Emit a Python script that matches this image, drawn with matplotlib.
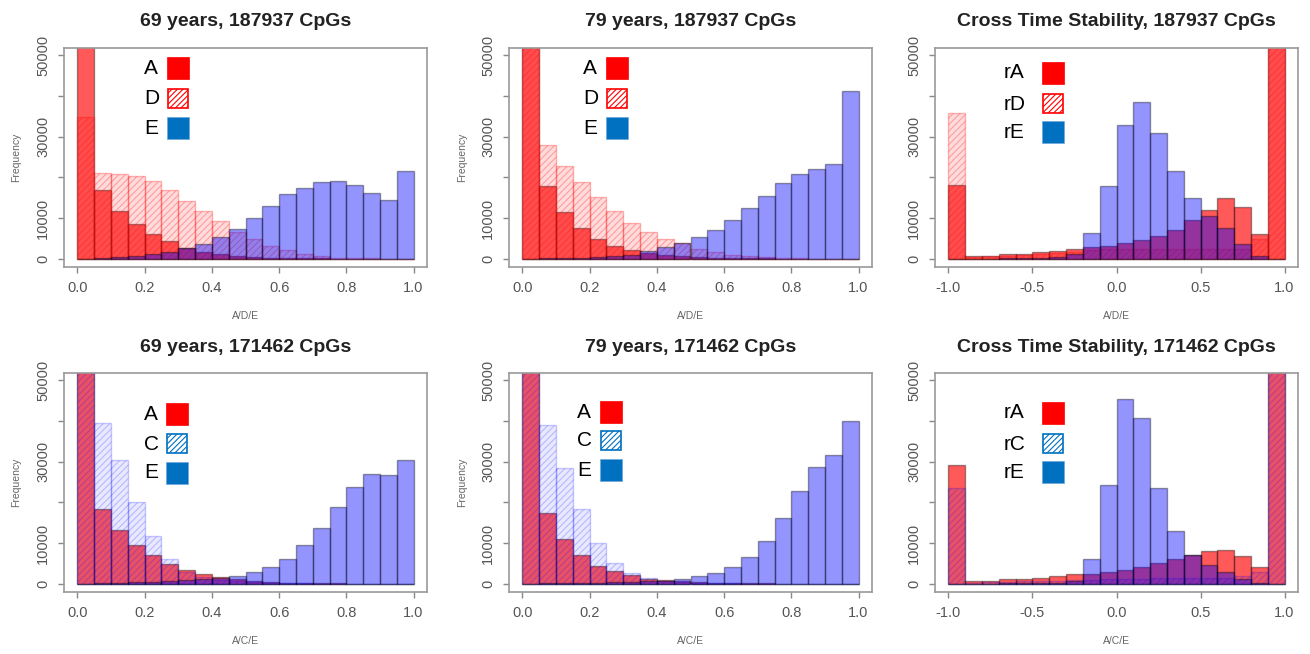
import numpy as np
import matplotlib
matplotlib.use("Agg")
import matplotlib.pyplot as plt
from matplotlib.patches import Rectangle

plt.rcParams['font.family'] = ['Liberation Sans', 'DejaVu Sans']
plt.rcParams['hatch.linewidth'] = 0.8

W, H = 1310, 654

# ---- data (bin counts) ----
age_edges = np.round(np.arange(0, 1.0001, 0.05), 2)
cross_edges = np.round(np.arange(-1, 1.0001, 0.1), 2)

# 187937 CpGs, 69 years
a69_d = [75000, 16900, 11800, 8500, 6100, 4300, 2600, 1800, 1100, 700,
         400, 300, 200, 150, 100, 80, 60, 40, 30, 20]
d69 = [34800, 21000, 20900, 20300, 19100, 16900, 14300, 11800, 9200, 6500,
       4800, 3200, 2100, 1300, 700, 300, 150, 100, 50, 20]
e69_d = [0, 200, 500, 700, 1100, 1600, 2600, 3600, 5300, 7300,
         10000, 12900, 15900, 17400, 19000, 19100, 18200, 16300, 14500, 21700]

# 187937 CpGs, 79 years
a79_d = [75000, 17900, 11600, 7500, 4800, 3200, 2100, 1500, 1000, 700,
         500, 300, 200, 150, 100, 80, 60, 40, 30, 20]
d79 = [60000, 28000, 22700, 18800, 15300, 11700, 8900, 6700, 4900, 3800,
       2400, 1600, 1000, 600, 400, 200, 100, 50, 30, 10]
e79_d = [0, 100, 200, 300, 500, 700, 1000, 2000, 2800, 3900,
         5400, 7100, 9600, 12600, 15400, 18600, 20900, 22000, 23200, 41200]

# 187937 CpGs, cross time stability
ra_d = [18100, 700, 800, 1100, 1300, 1600, 2000, 2400, 2800, 3200,
        3900, 4700, 5700, 7100, 9500, 12100, 14900, 12800, 6100, 70000]
rd = [35800, 400, 600, 800, 1000, 1200, 1500, 1800, 2100, 2300,
      2400, 2500, 2500, 2500, 2500, 2500, 2500, 2400, 4800, 70000]
re_d = [0, 50, 80, 100, 150, 200, 400, 1300, 6300, 18000,
        32900, 38500, 30900, 21500, 14900, 10600, 7700, 3600, 700, 0]

# 171462 CpGs, 69 years
a69_c = [75000, 18300, 13200, 9500, 7100, 4900, 3300, 2300, 1600, 1200,
         800, 500, 300, 200, 150, 100, 80, 50, 30, 20]
c69 = [70000, 39500, 30400, 20100, 11800, 6200, 3000, 1800, 1000, 600,
       400, 300, 200, 100, 80, 50, 30, 20, 10, 10]
e69_c = [0, 200, 300, 400, 500, 700, 900, 1200, 1500, 1900,
         2900, 4100, 6200, 9600, 13700, 18900, 23700, 27000, 26800, 30500]

# 171462 CpGs, 79 years
a79_c = [75000, 17500, 10900, 7000, 4500, 3100, 2100, 1300, 900, 600,
         400, 300, 200, 150, 100, 80, 50, 30, 20, 10]
c79 = [70000, 39100, 28500, 18300, 10100, 5200, 2700, 1500, 800, 500,
       300, 200, 100, 80, 50, 30, 20, 10, 10, 10]
e79_c = [0, 100, 150, 200, 300, 400, 500, 600, 800, 1200,
         1900, 2700, 4100, 6700, 10500, 16100, 22900, 28600, 31700, 39900]

# 171462 CpGs, cross time stability
ra_c = [29300, 650, 800, 1100, 1200, 1500, 1900, 2300, 2500, 3000,
        3500, 4200, 5200, 6000, 7200, 8100, 8300, 6800, 4100, 70000]
rc = [23500, 300, 400, 500, 600, 700, 800, 900, 1000, 1100,
      1200, 1300, 1400, 1500, 1500, 1500, 1500, 2000, 2900, 70000]
re_c = [0, 50, 80, 100, 150, 200, 300, 600, 6000, 24300,
        45500, 40800, 23500, 13000, 7200, 4600, 3000, 1300, 200, 0]

titles = ["69 years, 187937 CpGs", "79 years, 187937 CpGs",
          "Cross Time Stability, 187937 CpGs",
          "69 years, 171462 CpGs", "79 years, 171462 CpGs",
          "Cross Time Stability, 171462 CpGs"]
xlabels = ["A/D/E"] * 3 + ["A/C/E"] * 3
legend_names = [["A", "D", "E"], ["A", "D", "E"], ["rA", "rD", "rE"],
                ["A", "C", "E"], ["A", "C", "E"], ["rA", "rC", "rE"]]

panels = [
    (age_edges, a69_d, d69, e69_d, 'red'),
    (age_edges, a79_d, d79, e79_d, 'red'),
    (cross_edges, ra_d, rd, re_d, 'red'),
    (age_edges, a69_c, c69, e69_c, 'blue'),
    (age_edges, a79_c, c79, e79_c, 'blue'),
    (cross_edges, ra_c, rc, re_c, 'blue'),
]

# ---- layout (pixels) ----
ax_left = [64, 509, 935, 64, 509, 935]
ax_top = [48, 48, 48, 373, 373, 373]
ax_w, ax_h = 363, 219
ylab_x = [16, 462, None, 16, 462, None]
leg_text_x = [144, 583, 1004, 144, 577, 1004]
leg_box_x = [167, 606, 1042, 166, 600, 1042]
leg_tops = [[57, 88, 117], [57, 88, 117], [62, 93, 121],
            [403, 433, 462], [401, 430, 459], [402, 433, 461]]

def fx(x):
    return x / W

def fy(y):
    return 1 - y / H

fig = plt.figure(figsize=(W / 100, H / 100), dpi=100)

RED = (1, 0, 0, 0.65)
BLUE = (0, 0, 1, 0.42)
EDGE = (0, 0, 0, 0.38)
hatch_face = {'red': (1, 0, 0, 0.14), 'blue': (0, 0, 1, 0.09)}
hatch_edge = {'red': (1, 0, 0, 0.28), 'blue': (0, 0, 1, 0.2)}
leg_hatch = {'red': '#ff0000', 'blue': '#0070c0'}

for i, (edges, first, hatched, third, hcol) in enumerate(panels):
    ax = fig.add_axes([fx(ax_left[i]), fy(ax_top[i] + ax_h),
                       fx(ax_w), ax_h / H])
    left = edges[:-1]
    width = edges[1] - edges[0]
    ax.bar(left, first, width=width, align='edge', color=RED,
           edgecolor=EDGE, linewidth=1)
    ax.bar(left, hatched, width=width, align='edge',
           color=hatch_face[hcol], edgecolor=hatch_edge[hcol],
           hatch='/////', linewidth=1)
    ax.bar(left, third, width=width, align='edge', color=BLUE,
           edgecolor=EDGE, linewidth=1)

    span = edges[-1] - edges[0]
    ax.set_xlim(edges[0] - 0.04 * span, edges[-1] + 0.04 * span)
    ax.set_ylim(-2000, 51800)
    if edges[0] < 0:
        ax.set_xticks([-1.0, -0.5, 0.0, 0.5, 1.0])
    else:
        ax.set_xticks([0.0, 0.2, 0.4, 0.6, 0.8, 1.0])
    ax.xaxis.set_major_formatter(matplotlib.ticker.FormatStrFormatter('%.1f'))
    ax.set_yticks([0, 10000, 20000, 30000, 40000, 50000])
    ax.set_yticklabels(["0", "10000", "", "30000", "", "50000"],
                       rotation=90, va='center')
    ax.tick_params(direction='out', length=4, width=1, colors='#888888',
                   labelcolor='#555555', labelsize=10.5, pad=6)
    for s in ax.spines.values():
        s.set_color('#999999')
        s.set_linewidth(1.2)

    cx = ax_left[i] + ax_w / 2
    fig.text(fx(cx), fy(ax_top[i] - 26), titles[i], ha='center',
             va='center', fontsize=14, fontweight='bold', color='#222222')
    fig.text(fx(cx), fy(ax_top[i] + ax_h + 49), xlabels[i], ha='center',
             va='center', fontsize=7.5, color='#666666')
    if ylab_x[i] is not None:
        fig.text(fx(ylab_x[i]), fy(ax_top[i] + ax_h / 2), "Frequency",
                 ha='center', va='center', rotation=90, fontsize=7.5,
                 color='#666666')

    # legend
    for k, name in enumerate(legend_names[i]):
        top = leg_tops[i][k]
        bx = leg_box_x[i]
        fig.text(fx(leg_text_x[i]), fy(top + 11), name, ha='left',
                 va='center', fontsize=15, color='black')
        if k == 0:
            p = Rectangle((fx(bx), fy(top + 22)), fx(22), 22 / H,
                          transform=fig.transFigure, facecolor='#ff0000',
                          edgecolor='#ff0000', linewidth=0.5)
        elif k == 1:
            p = Rectangle((fx(bx + 1), fy(top + 20)), fx(20), 19 / H,
                          transform=fig.transFigure, facecolor='white',
                          edgecolor=leg_hatch[hcol], hatch='//////',
                          linewidth=1.2)
        else:
            p = Rectangle((fx(bx), fy(top + 22)), fx(22), 22 / H,
                          transform=fig.transFigure, facecolor='#0070c0',
                          edgecolor='#6fa8dc', linewidth=0.5)
        fig.patches.append(p)

fig.savefig("out.png", dpi=100)
